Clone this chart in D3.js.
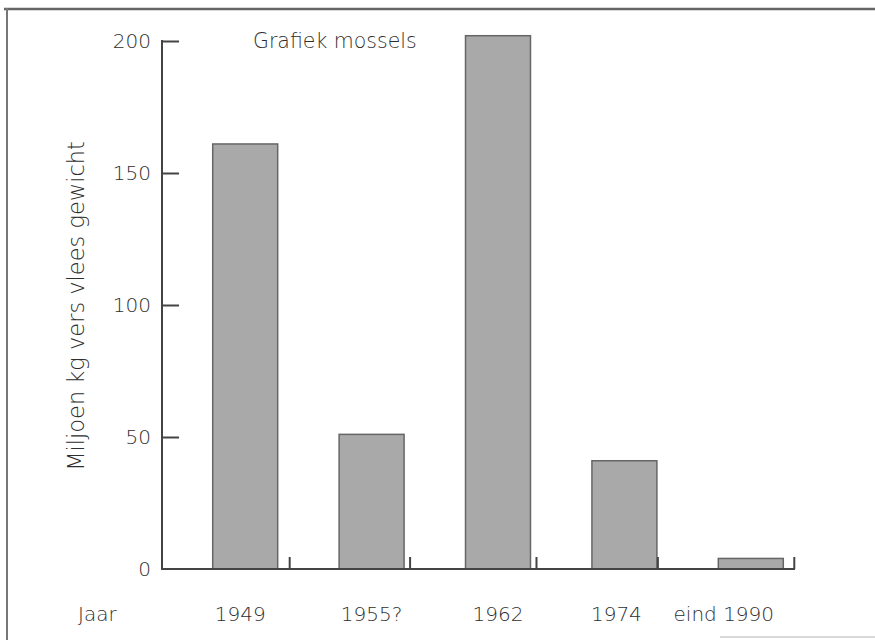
<!DOCTYPE html>
<html>
<head>
<meta charset="utf-8">
<script src="https://cdn.jsdelivr.net/npm/d3@7"></script>
<style>
  body { margin: 0; background: #fff; }
  text { font-family: "DejaVu Sans", sans-serif; font-weight: 200; fill: #2e2e2e; }
</style>
</head>
<body>
<svg id="chart" width="875" height="640"></svg>
<script>
// Data
const years = ["1949", "1955?", "1962", "1974", "eind 1990"];
const values = [161, 51, 202, 41, 4];
const yTicks = [0, 50, 100, 150, 200];

const width = 875, height = 640;
const svg = d3.select("#chart");

// Scan frame
svg.append("line").attr("x1", 4).attr("x2", width).attr("y1", 9).attr("y2", 9)
    .attr("stroke", "#666").attr("stroke-width", 2.5);
svg.append("line").attr("x1", 7).attr("x2", 7).attr("y1", 8).attr("y2", height)
    .attr("stroke", "#777").attr("stroke-width", 2);
svg.append("line").attr("x1", 720).attr("x2", width).attr("y1", 637).attr("y2", 637)
    .attr("stroke", "#ccc").attr("stroke-width", 1.5);

// Scales
const x = d3.scaleBand()
    .domain(years)
    .range([182, 814])
    .paddingInner(0.486)
    .paddingOuter(0.243);

const y = d3.scaleLinear()
    .domain([0, 200])
    .range([569, 41]);

const axisX0 = 162, axisX1 = 795;
const ink = "#444";

// Bars
svg.selectAll("rect.bar")
    .data(years)
    .join("rect")
    .attr("class", "bar")
    .attr("x", d => x(d))
    .attr("y", (d, i) => y(values[i]))
    .attr("width", x.bandwidth())
    .attr("height", (d, i) => y(0) - y(values[i]))
    .attr("fill", "#a9a9a9")
    .attr("stroke", "#666")
    .attr("stroke-width", 1.5);

// Left axis
const leftAxis = d3.axisRight(y).tickValues(yTicks).tickSize(17).tickFormat("");
const gy = svg.append("g")
    .attr("transform", `translate(${axisX0},0)`)
    .call(leftAxis);
gy.select(".domain").remove();
gy.selectAll(".tick line").attr("stroke", ink).attr("stroke-width", 2)
    .filter(d => d === 0).remove();
svg.append("line")
    .attr("x1", axisX0).attr("x2", axisX0)
    .attr("y1", y(200) - 1).attr("y2", y(0) + 1)
    .attr("stroke", ink).attr("stroke-width", 2);

// Y tick labels
svg.selectAll("text.ytick")
    .data(yTicks)
    .join("text")
    .attr("class", "ytick")
    .attr("x", 151)
    .attr("y", d => y(d))
    .attr("dy", "0.35em")
    .attr("text-anchor", "end")
    .attr("font-size", 20)
    .text(d => d);

// Baseline
svg.append("line")
    .attr("x1", axisX0).attr("x2", axisX1)
    .attr("y1", y(0)).attr("y2", y(0))
    .attr("stroke", ink).attr("stroke-width", 2);

// Separator ticks on the baseline
const sepOffsets = [12, 6, 6, 1, 11];
svg.selectAll("line.sep")
    .data(years)
    .join("line")
    .attr("class", "sep")
    .attr("x1", (d, i) => x(d) + x.bandwidth() + sepOffsets[i])
    .attr("x2", (d, i) => x(d) + x.bandwidth() + sepOffsets[i])
    .attr("y1", y(0))
    .attr("y2", y(0) - 12)
    .attr("stroke", ink)
    .attr("stroke-width", 2);

// Category labels
const labelShift = [-5, 0, 0, -8, -27];
svg.selectAll("text.xlabel")
    .data(years)
    .join("text")
    .attr("class", "xlabel")
    .attr("x", (d, i) => x(d) + x.bandwidth() / 2 + labelShift[i])
    .attr("y", 621)
    .attr("text-anchor", "middle")
    .attr("font-size", 20)
    .text(d => d);

svg.append("text")
    .text("Jaar")
    .attr("x", 78)
    .attr("y", 621)
    .attr("font-size", 20);

// Title
svg.append("text")
    .text("Grafiek mossels")
    .attr("x", 253)
    .attr("y", 48)
    .attr("font-size", 20.5);

// Y axis label
svg.append("text")
    .text("Miljoen kg vers vlees gewicht")
    .attr("transform", "translate(84,306) rotate(-90)")
    .attr("text-anchor", "middle")
    .attr("font-size", 22.5);
</script>
</body>
</html>
